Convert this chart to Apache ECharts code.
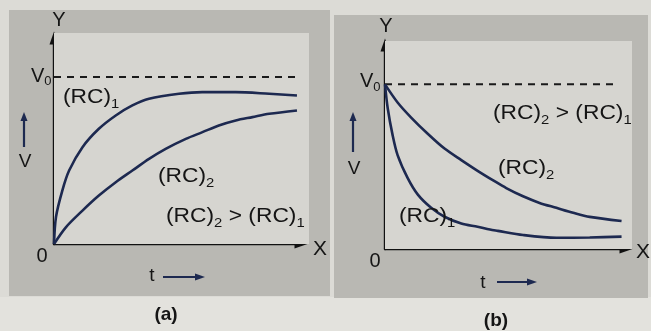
<!DOCTYPE html>
<html>
<head>
<meta charset="utf-8">
<script src="https://cdn.jsdelivr.net/npm/echarts@6/dist/echarts.min.js"></script>
<style>
  html, body { margin: 0; padding: 0; background: #dcdbd6; }
  #chart { width: 651px; height: 331px; }
</style>
</head>
<body>
<div id="chart"></div>
<script>
// Capacitor voltage against time for two time constants, (RC)2 > (RC)1.
// Voltages are in units of V0.

// (a) charging
const tChargeRc1 = [0, 0.08, 0.33, 0.60, 1.13, 1.78, 2.45, 3.11, 3.77, 4.96, 5.88, 7.21, 8.54, 9.64];
const vChargeRc1 = [0, 0.163, 0.32, 0.44, 0.58, 0.69, 0.77, 0.83, 0.87, 0.90, 0.91, 0.91, 0.90, 0.89];
const tChargeRc2 = [0, 0.47, 1.13, 1.78, 2.45, 3.11, 3.77, 4.43, 5.23, 5.89, 6.54, 7.21, 7.87, 8.54, 9.64];
const vChargeRc2 = [0, 0.10, 0.20, 0.29, 0.37, 0.44, 0.51, 0.57, 0.63, 0.67, 0.71, 0.74, 0.76, 0.78, 0.80];

// (b) discharging
const tDischargeRc1 = [0, 0.11, 0.31, 0.51, 0.92, 1.33, 1.87, 2.41, 3.09, 3.75, 4.25, 4.57, 5.59, 6.94, 8.29, 9.58];
const vDischargeRc1 = [1, 0.855, 0.69, 0.57, 0.43, 0.33, 0.25, 0.196, 0.155, 0.135, 0.118, 0.11, 0.085, 0.068, 0.07, 0.075];
const tDischargeRc2 = [0, 0.51, 1.05, 1.73, 2.41, 3.09, 3.75, 4.40, 4.91, 5.59, 6.26, 6.94, 7.62, 8.29, 9.58];
const vDischargeRc2 = [1, 0.89, 0.80, 0.70, 0.61, 0.54, 0.475, 0.415, 0.37, 0.32, 0.28, 0.25, 0.22, 0.195, 0.17];

// supply voltage reference line (V0) and its extent along t
const v0Level = 1;
const v0EndA = 9.72;
const v0EndB = 9.4;

// axis text
const originLabel = '0';
const xName = 'X';
const yName = 'Y';
const tName = 't';
const vName = 'V';

const FONT = '"Liberation Sans", Arial, Helvetica, sans-serif';
const INK = '#151515';
const NAVY = '#1d2950';

const pairs = (xs, ys) => xs.map((x, i) => [x, ys[i]]);

const measureCtx = document.createElement('canvas').getContext('2d');
function measure(text, size, weight) {
  measureCtx.font = (weight || 'normal') + ' ' + size + 'px ' + FONT;
  return measureCtx.measureText(text).width;
}

// A run of text pieces sharing one baseline; each piece is [text, size, baselineShift].
function label(x, baseline, runs, opts) {
  opts = opts || {};
  const weight = opts.weight || 'normal';
  const sx = opts.scaleX || 1.14;
  const children = [];
  let cx = 0;
  runs.forEach(([txt, size, dy]) => {
    children.push({
      type: 'text',
      x: cx,
      y: (dy || 0) - 0.35 * size,
      z: 20,
      style: {
        text: txt,
        fontSize: size,
        fontFamily: FONT,
        fontWeight: weight,
        fill: opts.color || INK,
        textAlign: 'left',
        textVerticalAlign: 'middle'
      }
    });
    cx += measure(txt, size, weight);
  });
  const x0 = opts.align === 'center' ? x - cx * sx / 2 : x;
  return { type: 'group', x: x0, y: baseline, scaleX: sx, scaleY: 1, children, z: 20 };
}

const rc = (sub, size) => [['(RC)', size, 0], [sub, Math.round(size * 0.66), 5]];

// small arrows beside the axis names
function arrowUp(x, yBottom, yTip) {
  return [
    { type: 'line', shape: { x1: x, y1: yBottom, x2: x, y2: yTip + 6 }, style: { stroke: NAVY, lineWidth: 2.2 }, z: 20 },
    { type: 'polygon', shape: { points: [[x, yTip], [x - 3.5, yTip + 9], [x + 3.5, yTip + 9]] }, style: { fill: NAVY }, z: 20 }
  ];
}
function arrowRight(xStart, xTip, y) {
  return [
    { type: 'line', shape: { x1: xStart, y1: y, x2: xTip - 6, y2: y }, style: { stroke: NAVY, lineWidth: 2.2 }, z: 20 },
    { type: 'polygon', shape: { points: [[xTip, y], [xTip - 10, y - 3.5], [xTip - 10, y + 3.5]] }, style: { fill: NAVY }, z: 20 }
  ];
}

const chart = echarts.init(document.getElementById('chart'), null, { renderer: 'canvas' });

const axisLine = {
  show: true,
  onZero: false,
  symbol: ['none', 'triangle'],
  symbolSize: [9, 13],
  lineStyle: { color: '#111', width: 2.4 }
};
const hidden = {
  axisTick: { show: false },
  axisLabel: { show: false },
  splitLine: { show: false }
};

const curve = (xi, data) => ({
  type: 'line',
  xAxisIndex: xi,
  yAxisIndex: xi,
  data,
  smooth: 0.3,
  symbol: 'none',
  silent: true,
  lineStyle: { color: NAVY, width: 2.6 },
  z: 5
});
const dashed = (xi, end) => ({
  type: 'line',
  xAxisIndex: xi,
  yAxisIndex: xi,
  data: [[0, v0Level], [end, v0Level]],
  symbol: 'none',
  silent: true,
  lineStyle: { color: '#1a1a1a', width: 2, type: [7, 6] },
  z: 4
});

const graphics = [
  // page tone below the panels
  { type: 'rect', shape: { x: 0, y: 297, width: 651, height: 34 }, style: { fill: '#e3e2dd' }, z: 0 },
  // panel frames
  { type: 'rect', shape: { x: 9, y: 10, width: 321, height: 286 }, style: { fill: '#b9b8b3' }, z: 0 },
  { type: 'rect', shape: { x: 334, y: 15, width: 314, height: 283 }, style: { fill: '#b9b8b3' }, z: 0 },
  // plot areas
  { type: 'rect', shape: { x: 54, y: 33, width: 255, height: 211 }, style: { fill: '#d6d5d0' }, z: 1 },
  { type: 'rect', shape: { x: 385, y: 41, width: 247, height: 208 }, style: { fill: '#d6d5d0' }, z: 1 },

  // (a) texts
  label(59, 27, [[yName, 20, 0]], { align: 'center', scaleX: 1 }),
  label(31, 83, [['V', 20, 0], ['0', 13, 3]], { scaleX: 1 }),
  label(63, 104, rc('1', 20)),
  label(158, 183, rc('2', 20)),
  label(166, 223, rc('2', 20).concat([[' > ', 20, 0]], rc('1', 20))),
  label(42, 263, [[originLabel, 20, 0]], { align: 'center', scaleX: 1 }),
  label(320, 256, [[xName, 20, 0]], { align: 'center', scaleX: 1.05 }),
  label(25, 168, [[vName, 19, 0]], { align: 'center', scaleX: 1 }),
  label(152, 282, [[tName, 19, 0]], { align: 'center', scaleX: 1 }),
  label(166, 321, [['(a)', 19, 0]], { align: 'center', scaleX: 1, weight: 'bold' }),
  ...arrowUp(24, 147, 112),
  ...arrowRight(163, 205, 277),

  // (b) texts
  label(386, 33, [[yName, 20, 0]], { align: 'center', scaleX: 1 }),
  label(360, 88, [['V', 20, 0], ['0', 13, 4]], { scaleX: 1 }),
  label(493, 120, rc('2', 20).concat([[' > ', 20, 0]], rc('1', 20))),
  label(498, 175, rc('2', 20)),
  label(399, 223, rc('1', 20)),
  label(375, 268, [[originLabel, 20, 0]], { align: 'center', scaleX: 1 }),
  label(643, 259, [[xName, 20, 0]], { align: 'center', scaleX: 1.05 }),
  label(354, 175, [[vName, 19, 0]], { align: 'center', scaleX: 1 }),
  label(483, 289, [[tName, 19, 0]], { align: 'center', scaleX: 1 }),
  label(496, 327, [['(b)', 19, 0]], { align: 'center', scaleX: 1, weight: 'bold' }),
  ...arrowUp(353, 152, 112),
  ...arrowRight(497, 537, 282)
];

chart.setOption({
  backgroundColor: '#dcdbd6',
  animation: false,
  grid: [
    { left: 54, top: 38, width: 247, height: 206 },
    { left: 385, top: 45, width: 241, height: 204 }
  ],
  xAxis: [
    { type: 'value', gridIndex: 0, min: 0, max: 9.8, axisLine, ...hidden },
    { type: 'value', gridIndex: 1, min: 0, max: 9.76, axisLine, ...hidden }
  ],
  yAxis: [
    { type: 'value', gridIndex: 0, min: 0, max: 1.234, axisLine, ...hidden },
    { type: 'value', gridIndex: 1, min: 0, max: 1.239, axisLine, ...hidden }
  ],
  graphic: { elements: graphics },
  series: [
    dashed(0, v0EndA),
    curve(0, pairs(tChargeRc1, vChargeRc1)),
    curve(0, pairs(tChargeRc2, vChargeRc2)),
    dashed(1, v0EndB),
    curve(1, pairs(tDischargeRc1, vDischargeRc1)),
    curve(1, pairs(tDischargeRc2, vDischargeRc2))
  ]
});
</script>
</body>
</html>
